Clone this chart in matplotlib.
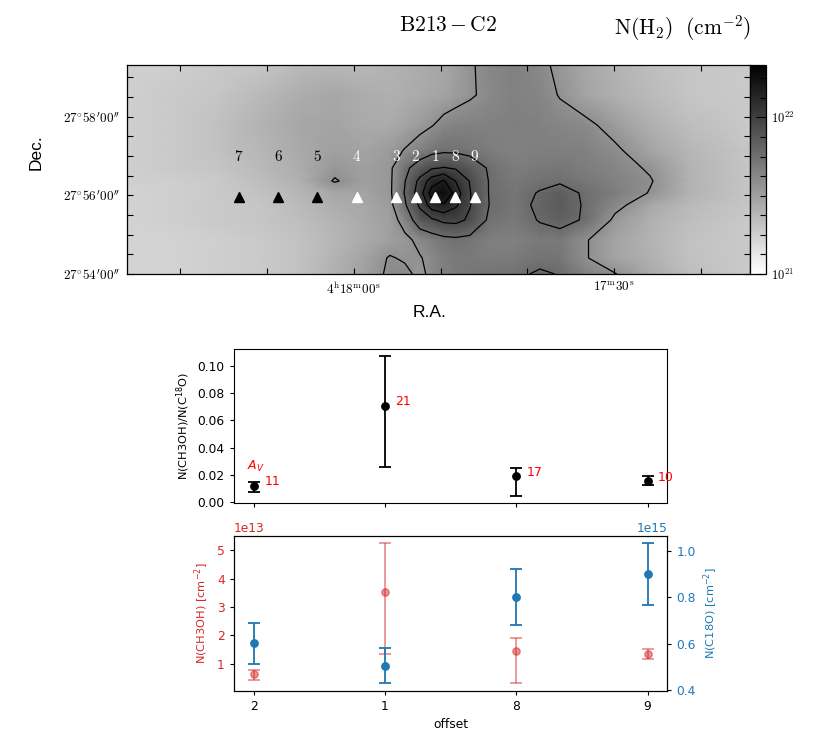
import numpy as np
import matplotlib
matplotlib.use("Agg")
import matplotlib.pyplot as plt
from matplotlib.colors import LogNorm
from matplotlib.ticker import FixedLocator, FixedFormatter

plt.rcParams['mathtext.fontset'] = 'cm'

# ---------------- map data (N(H2) in units of 1e21 cm^-2) ----------------
# RA nodes: seconds past 4h17m (RA decreases to the right); Dec nodes: arcmin past 27 deg
ra_nodes = [86.16, 81.21, 76.02, 70.83, 66.22, 62.19, 58.73, 55.85, 54.12, 52.39, 51.01, 49.63,
            48.24, 46.63, 44.33, 41.45, 38.56, 36.26, 33.38, 29.92, 25.89, 21.28, 14.36]
dec_nodes = [59.314, 58.551, 57.788, 57.153, 56.695, 56.365, 56.060, 55.754, 55.373, 54.864, 54.407, 54.0]
nh2_map = [
    [1.8, 1.8, 1.9, 2.0, 2.3, 2.4, 2.4, 2.5, 2.6, 2.7, 2.8, 2.9, 3.16, 3.64, 4.24, 4.57, 4.13, 3.48, 2.9, 2.5, 2.2, 2.0, 1.9],
    [1.8, 1.9, 2.0, 2.3, 2.7, 2.9, 2.7, 2.6, 2.7, 2.8, 2.9, 3.0, 3.32, 3.64, 4.13, 4.57, 4.35, 3.72, 3.0, 2.6, 2.3, 2.0, 1.9],
    [1.8, 1.9, 2.1, 2.5, 2.9, 3.0, 2.8, 2.8, 3.0, 3.32, 3.72, 4.24, 4.46, 4.57, 4.57, 4.68, 4.57, 4.35, 4.13, 3.32, 2.6, 2.2, 1.9],
    [1.8, 1.9, 2.1, 2.4, 2.8, 3.16, 3.0, 3.32, 3.86, 4.57, 5.12, 5.45, 5.45, 5.23, 4.79, 4.57, 4.68, 4.68, 4.57, 4.02, 3.0, 2.4, 2.0],
    [1.8, 1.9, 2.0, 2.3, 2.7, 3.48, 3.16, 3.48, 5.45, 7.2, 8.7, 9.15, 8.7, 7.5, 5.67, 4.79, 5.01, 5.12, 4.79, 4.35, 3.64, 2.5, 2.0],
    [1.8, 1.8, 1.9, 2.2, 2.6, 3.91, 3.16, 3.48, 5.89, 9.75, 13.5, 15.3, 11.85, 8.85, 5.78, 5.01, 5.45, 5.67, 5.12, 4.57, 3.91, 2.5, 2.0],
    [1.7, 1.8, 1.9, 2.1, 2.4, 2.9, 3.0, 3.48, 6.15, 10.5, 16.5, 18.75, 13.5, 9.15, 5.78, 5.23, 6.15, 7.05, 5.67, 4.79, 3.72, 2.5, 2.0],
    [1.7, 1.8, 1.9, 2.0, 2.3, 2.7, 2.9, 3.32, 5.67, 9.45, 13.5, 14.55, 12.45, 9.15, 5.89, 5.23, 6.45, 7.2, 5.78, 4.24, 2.9, 2.3, 2.0],
    [1.7, 1.8, 1.9, 2.0, 2.2, 2.5, 2.8, 3.16, 4.35, 7.5, 8.55, 9.6, 9.75, 8.55, 5.45, 5.01, 6.15, 6.75, 5.78, 3.48, 2.6, 2.2, 1.9],
    [1.7, 1.7, 1.8, 1.9, 2.1, 2.4, 2.8, 3.16, 3.48, 4.13, 4.68, 5.23, 5.45, 5.23, 4.68, 4.57, 5.01, 5.01, 3.91, 3.0, 2.5, 2.1, 1.9],
    [1.7, 1.7, 1.8, 1.9, 2.1, 2.5, 3.0, 3.91, 3.64, 3.72, 4.13, 4.68, 5.01, 5.01, 4.79, 4.9, 5.34, 5.23, 3.91, 3.0, 2.6, 2.1, 1.9],
    [1.7, 1.7, 1.8, 1.9, 2.1, 2.6, 3.16, 4.02, 4.13, 3.48, 4.13, 4.57, 5.01, 5.23, 5.34, 5.56, 6.3, 5.89, 4.57, 3.86, 2.8, 2.2, 1.9],
]
contour_levels = [3.8, 6.0, 9.0, 12.0, 15.0]
map_vmin, map_vmax = 1.0, 21.6

pos_labels = ['7', '6', '5', '4', '3', '2', '1', '8', '9']
pos_ra = [73.25, 68.72, 64.19, 59.66, 55.13, 52.86, 50.60, 48.34, 46.07]
pos_dec = [55.97] * 9
pos_label_dec = 57.0
pos_colors = ['black', 'black', 'black', 'white', 'white', 'white', 'white', 'white', 'white']

ra_major = [60, 30]
ra_major_labels = [r'$4^{\mathrm{h}}18^{\mathrm{m}}00^{\mathrm{s}}$', r'$17^{\mathrm{m}}30^{\mathrm{s}}$']
ra_minor = [80, 70, 50, 40, 20]
dec_major = [54, 56, 58]
dec_major_labels = [r"$27^{\circ}54^{\prime}00^{\prime\prime}$",
                    r"$27^{\circ}56^{\prime}00^{\prime\prime}$",
                    r"$27^{\circ}58^{\prime}00^{\prime\prime}$"]
dec_minor = [54.5, 55, 55.5, 56.5, 57, 57.5, 58.5, 59]

# ---------------- spectra-derived data ----------------
offsets = ['2', '1', '8', '9']
ratio = [0.0120, 0.0708, 0.0188, 0.0156]
ratio_lo = [0.0045, 0.0447, 0.0147, 0.0034]
ratio_hi = [0.0027, 0.0365, 0.0064, 0.0032]
av = ['11', '21', '17', '10']

ch3oh = [0.658, 3.541, 1.445, 1.364]        # 1e13 cm^-2
ch3oh_lo = [0.212, 2.188, 1.116, 0.201]
ch3oh_hi = [0.142, 1.730, 0.473, 0.176]
c18o = [0.6026, 0.5028, 0.8022, 0.9002]     # 1e15 cm^-2
c18o_lo = [0.0898, 0.0755, 0.1202, 0.1327]
c18o_hi = [0.0881, 0.0762, 0.1184, 0.1363]
ch3oh_scale = 1e13
c18o_scale = 1e15

# ---------------- figure ----------------
fig = plt.figure(figsize=(8.3, 7.42), dpi=100)

axm = fig.add_axes([0.15265, 0.63073, 0.75096, 0.28167])
cax = fig.add_axes([0.90361, 0.63073, 0.01892, 0.28167])

RA, DEC = np.meshgrid(ra_nodes, dec_nodes)
Z = np.array(nh2_map)
norm = LogNorm(vmin=map_vmin, vmax=map_vmax)
mesh = axm.pcolormesh(RA, DEC, Z, shading='gouraud', cmap='gray_r', norm=norm, rasterized=True)
axm.contour(RA, DEC, Z, levels=contour_levels, colors='k', linewidths=0.9)

for lab, r, d, c in zip(pos_labels, pos_ra, pos_dec, pos_colors):
    axm.plot(r, d, marker='^', color=c, markersize=7, linestyle='none')
    axm.text(r, pos_label_dec, r'$\mathrm{%s}$' % lab, color=c, fontsize=11,
             ha='center', va='center')

axm.set_xlim(ra_nodes[0], ra_nodes[-1])
axm.set_ylim(dec_nodes[-1], dec_nodes[0])
axm.xaxis.set_major_locator(FixedLocator(ra_major))
axm.xaxis.set_major_formatter(FixedFormatter(ra_major_labels))
axm.xaxis.set_minor_locator(FixedLocator(ra_minor))
axm.yaxis.set_major_locator(FixedLocator(dec_major))
axm.yaxis.set_major_formatter(FixedFormatter(dec_major_labels))
axm.yaxis.set_minor_locator(FixedLocator(dec_minor))
axm.tick_params(which='both', direction='in', top=True, right=True, length=4, width=0.8,
                labelsize=9.5, pad=5)
for sp in axm.spines.values():
    sp.set_linewidth(0.9)

axm.set_xlabel('R.A.', fontsize=12.5, family='Liberation Sans')
axm.xaxis.set_label_coords(0.4866, -0.148)
axm.set_ylabel('Dec.', fontsize=12.5, family='Liberation Sans')
axm.yaxis.set_label_coords(-0.1326, 0.584)

cb = fig.colorbar(mesh, cax=cax)
cb.set_ticks([1, 10], labels=[r'$10^{21}$', r'$10^{22}$'])
cax.yaxis.set_minor_locator(FixedLocator([10 ** (k / 8.0) for k in range(1, 11) if k != 8]))
cax.yaxis.set_minor_formatter(FixedFormatter([''] * 9))
cax.tick_params(which='both', direction='in', right=True, left=False, length=4, width=0.8,
                labelsize=9, pad=4)
cax.tick_params(which='major', length=7)
cb.outline.set_linewidth(0.9)

fig.text(448 / 830, 1 - 25 / 742, r'$\mathrm{B213\,{-}\,C2}$', fontsize=15.5, ha='center', va='center')
fig.text(683 / 830, 1 - 28 / 742, r'$\mathrm{N(H_2)\ \ (cm^{-2})}$', fontsize=15.5,
         ha='center', va='center')

# ---------------- ratio panel ----------------
x = np.arange(len(offsets))
ax1 = fig.add_axes([0.28193, 0.32170, 0.52205, 0.20755])
ax1.errorbar(x, ratio, yerr=[ratio_lo, ratio_hi], fmt='o', color='k', ecolor='k',
             capsize=4.3, markersize=5.3, elinewidth=1.3, capthick=1.3)
for xi, yi, t in zip(x, ratio, av):
    ax1.text(xi + 0.08, yi + 0.0028, t, color='red', fontsize=9, ha='left', va='center',
             math_fontfamily='dejavusans')
ax1.text(-0.05, 0.0265, r'$A_V$', color='red', fontsize=9, ha='left', va='center',
         math_fontfamily='dejavusans')
ax1.set_xlim(-0.15, 3.15)
ax1.set_ylim(-0.0009, 0.1123)
ax1.set_xticks(x)
ax1.tick_params(axis='x', labelbottom=False)
ax1.tick_params(labelsize=8.8, length=3.1)
ax1.set_ylabel(r'N(CH3OH)/N(C$^{18}$O)', fontsize=8.2, math_fontfamily='dejavusans')

# ---------------- column density panel ----------------
ax2 = fig.add_axes([0.28193, 0.06914, 0.52205, 0.20849])
ax2.errorbar(x, np.array(ch3oh) * ch3oh_scale,
             yerr=[np.array(ch3oh_lo) * ch3oh_scale, np.array(ch3oh_hi) * ch3oh_scale],
             fmt='o', color='tab:red', alpha=0.5, capsize=4.3, markersize=5.3,
             elinewidth=1.3, capthick=1.3)
ax2.set_xlim(-0.15, 3.15)
ax2.set_ylim(0.058 * ch3oh_scale, 5.50 * ch3oh_scale)
ax2.set_xticks(x, offsets)
ax2.tick_params(labelsize=8.8, length=3.1)
ax2.tick_params(axis='y', labelcolor='tab:red')
ax2.yaxis.get_offset_text().set_color('tab:red')
ax2.yaxis.get_offset_text().set_fontsize(8.8)
ax2.set_xlabel('offset', fontsize=8.8)
ax2.set_ylabel(r'N(CH3OH) [cm$^{-2}$]', fontsize=8.2, color='tab:red',
               math_fontfamily='dejavusans')

ax3 = ax2.twinx()
ax3.errorbar(x, np.array(c18o) * c18o_scale,
             yerr=[np.array(c18o_lo) * c18o_scale, np.array(c18o_hi) * c18o_scale],
             fmt='o', color='tab:blue', capsize=4.3, markersize=5.3,
             elinewidth=1.3, capthick=1.3)
ax3.set_ylim(0.396 * c18o_scale, 1.065 * c18o_scale)
ax3.set_yticks([0.4 * c18o_scale, 0.6 * c18o_scale, 0.8 * c18o_scale, 1.0 * c18o_scale])
ax3.tick_params(labelsize=8.8, length=3.1, labelcolor='tab:blue')
ax3.yaxis.get_offset_text().set_color('tab:blue')
ax3.yaxis.get_offset_text().set_fontsize(8.8)
ax3.set_ylabel(r'N(C18O) [cm$^{-2}$]', fontsize=8.2, color='tab:blue',
               math_fontfamily='dejavusans')

fig.savefig('out.png', dpi=100)
